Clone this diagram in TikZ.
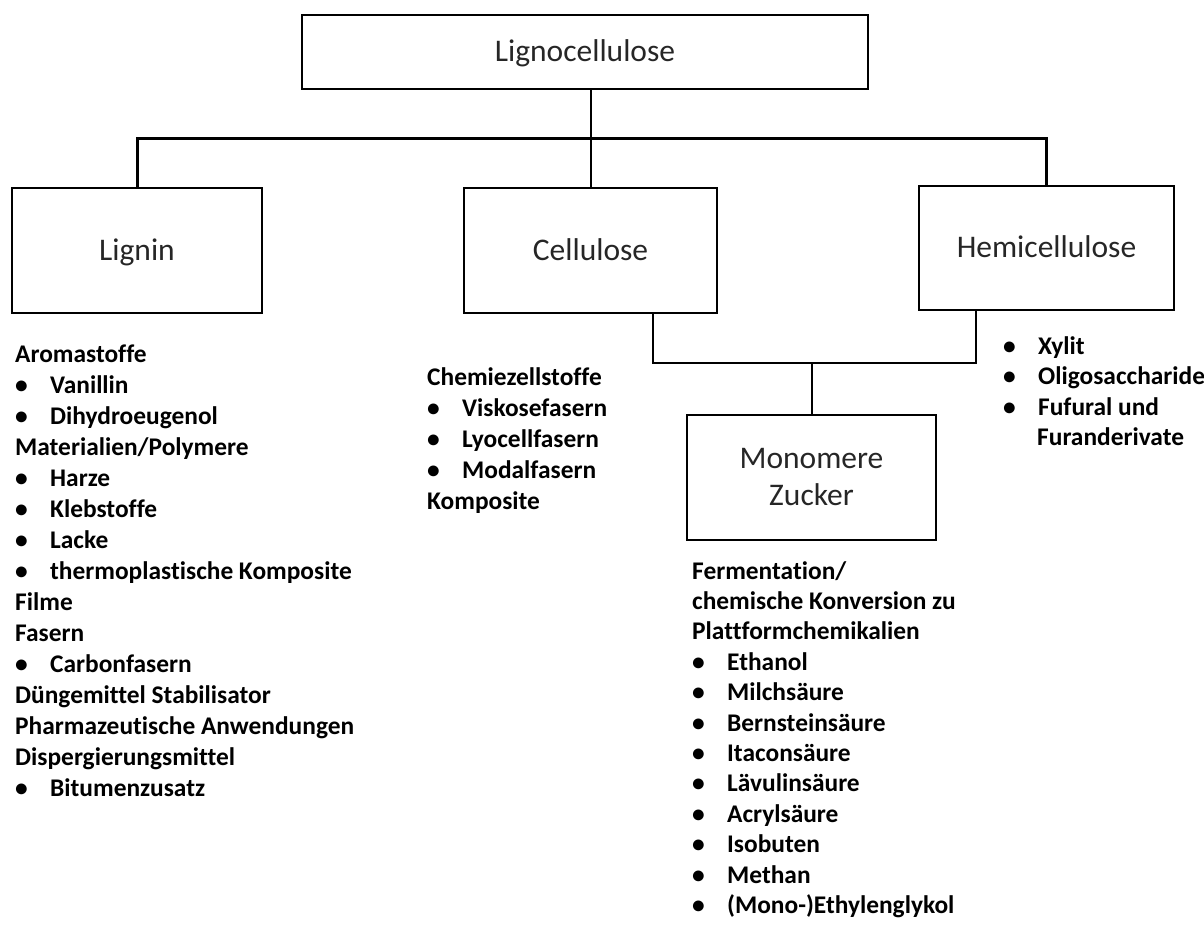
\documentclass[tikz,border=0pt]{standalone}
\usepackage{fontspec}
\setmainfont{Carlito}[Ligatures=NoCommon]
\usetikzlibrary{positioning}
\definecolor{ink}{HTML}{262626}
\tikzset{
  box/.style={
    draw=black,
    line width=2.2pt,
    text=ink,
    font=\fontsize{31.5}{37}\selectfont,
    align=center,
    text height=24pt,
    text depth=5pt,
    inner sep=0pt
  },
  listtext/.style={
    text=black,
    font=\bfseries\fontsize{25.4}{30}\selectfont,
    anchor=base west,
    inner sep=0pt
  },
  link/.style={
    draw=black,
    line width=2pt
  },
  bus/.style={
    draw=black,
    line width=3pt
  }
}
\newcommand{\bulhead}{}
\newcommand{\bulitem}{\makebox[35pt][l]{\textbullet}}
\newcommand{\bulcont}{\hspace*{34pt}}

\begin{document}
\begin{tikzpicture}[x=1pt,y=-1pt]
  \useasboundingbox (0,0) rectangle (1204,924);

  % Boxes
  \node[box, minimum width=566pt, minimum height=74pt] (lignocell) at (585,52) {Lignocellulose};
  \node[box, minimum width=250pt, minimum height=125pt] (lignin) at (137,250.5) {Lignin};
  \node[box, minimum width=253pt, minimum height=125pt] (cellulose) at (590.5,250.5) {Cellulose};
  \node[box, minimum width=255pt, minimum height=124pt] (hemi) at (1046.5,248) {Hemicellulose};
  \node[box, minimum width=249pt, minimum height=125pt, text height=, text depth=]
    (monomere) at (811.5,477.5) {Monomere\\Zucker};

  % Tree connectors
  \coordinate (bar) at (590.5,138);
  \coordinate (join) at (811.5,363);
  \draw[link] (lignocell.south -| cellulose.north) -- (cellulose.north);
  \draw[bus] (lignin.north) |- (bar) -| (hemi.north);
  \draw[link] ([xshift=62.5pt]cellulose.south) |- (join) -| ([xshift=-70.5pt]hemi.south);
  \draw[link] (join) -- (monomere.north);

  % Lignin uses
  \foreach \pre/\txt [count=\i from 0] in {\bulhead/Aromastoffe, \bulitem/Vanillin,
      \bulitem/Dihydroeugenol, \bulhead/{Materialien/Polymere}, \bulitem/Harze,
      \bulitem/Klebstoffe, \bulitem/Lacke, \bulitem/thermoplastische Komposite,
      \bulhead/Filme, \bulhead/Fasern, \bulitem/Carbonfasern,
      \bulhead/Düngemittel Stabilisator, \bulhead/Pharmazeutische Anwendungen,
      \bulhead/Dispergierungsmittel, \bulitem/Bitumenzusatz}
    \node[listtext] (lig\i) at (15,362+31*\i) {\pre\txt};

  % Cellulose uses
  \foreach \pre/\txt [count=\i from 0] in {\bulhead/Chemiezellstoffe, \bulitem/Viskosefasern,
      \bulitem/Lyocellfasern, \bulitem/Modalfasern, \bulhead/Komposite}
    \node[listtext] (cel\i) at (427,385+31*\i) {\pre\txt};

  % Hemicellulose uses
  \foreach \pre/\txt [count=\i from 0] in {\bulitem/Xylit, \bulitem/Oligosaccharide,
      \bulitem/Fufural und, \bulcont/Furanderivate}
    \node[listtext] (hem\i) at (1003,354+30.5*\i) {\pre\txt};

  % Monomer sugar uses
  \foreach \pre/\txt [count=\i from 0] in {\bulhead/{Fermentation/},
      \bulhead/chemische Konversion zu, \bulhead/Plattformchemikalien,
      \bulitem/Ethanol, \bulitem/Milchsäure, \bulitem/Bernsteinsäure,
      \bulitem/Itaconsäure, \bulitem/Lävulinsäure, \bulitem/Acrylsäure,
      \bulitem/Isobuten, \bulitem/Methan, \bulitem/(Mono-)Ethylenglykol}
    \node[listtext] (mon\i) at (692,579+30.4*\i) {\pre\txt};
\end{tikzpicture}
\end{document}
